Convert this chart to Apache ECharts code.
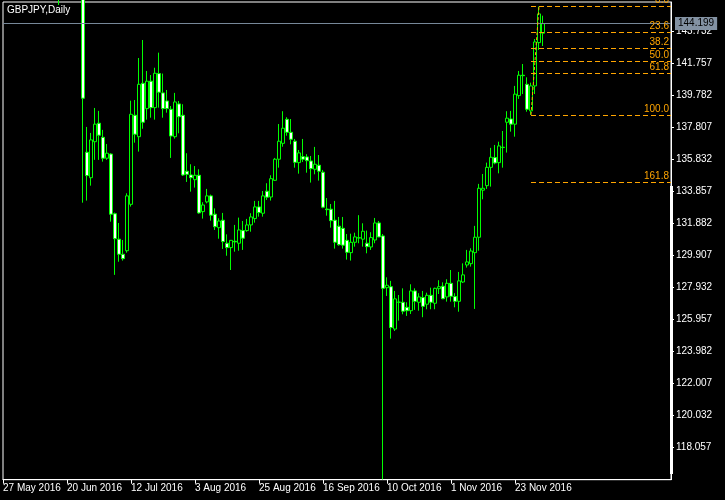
<!DOCTYPE html>
<html><head><meta charset="utf-8">
<script src="https://cdn.jsdelivr.net/npm/echarts@6/dist/echarts.min.js"></script>
<style>html,body{margin:0;padding:0;background:#000}#c{width:725px;height:500px}</style>
</head><body><div id="c"></div>
<script>
const chartTitle = 'GBPJPY,Daily';
const monthNames = ['Jan','Feb','Mar','Apr','May','Jun','Jul','Aug','Sep','Oct','Nov','Dec'];
const firstBarDate = [2016, 4, 27];
const totalSlots = 168;
const lastBarIndex = 135;
const labelEvery = 16;

// Daily bars, 27 May 2016 .. 2 Dec 2016
const opens = [161.0,161.1,161.6,161.0,157.9,157.4,154.6,155.3,156.0,156.3,154.3,152.3,150.6,149.8,150.2,148.6,149.9,153.0,153.2,153.9,
158.6,136.27,134.70,136.92,138.06,137.19,135.90,136.16,132.48,130.91,129.98,130.20,133.06,138.55,137.23,140.52,138.96,140.65,139.02,141.12,
139.93,139.43,138.92,137.23,139.25,138.55,135.10,134.87,134.58,134.85,132.61,133.21,133.58,132.45,131.62,132.08,130.66,130.39,130.78,130.66,
131.44,131.44,131.79,132.18,132.90,132.51,133.87,133.51,134.54,135.84,136.82,138.30,137.50,136.95,135.63,136.00,135.98,135.73,135.22,135.47,
135.04,132.77,132.76,132.08,131.71,131.58,130.84,130.08,130.72,131.00,130.91,130.66,130.43,130.86,131.91,131.11,127.92,127.98,125.37,127.02,
127.02,126.71,126.50,127.72,127.02,127.31,126.90,127.45,126.96,127.86,128.01,127.35,128.19,127.37,127.08,128.27,129.32,129.40,130.08,131.03,
133.93,134.21,135.34,135.94,135.63,136.56,138.12,138.32,138.00,139.76,141.02,140.46,138.82,140.36,143.03,143.61];
const highs = [161.5,162.0,162.3,161.2,158.4,158.3,156.0,156.4,157.0,156.6,154.6,152.6,151.0,150.9,150.7,150.2,153.6,154.0,154.3,160.0,
160.2,137.83,137.46,139.00,138.82,137.65,136.78,136.21,132.55,131.91,130.86,133.74,139.45,139.49,142.08,143.19,141.28,141.03,141.48,142.41,
141.12,140.11,139.12,139.93,139.43,139.23,136.21,135.53,135.42,135.22,133.19,134.01,133.66,132.81,132.20,132.53,131.21,130.86,131.79,132.24,
132.03,132.16,132.51,133.27,133.27,133.88,134.36,134.85,135.92,138.01,138.80,138.43,138.32,137.09,136.41,137.09,136.15,136.04,136.60,136.10,
135.18,133.45,133.08,133.27,132.28,132.28,131.23,131.25,131.31,132.39,131.89,131.44,131.34,132.22,132.03,131.23,128.56,128.34,127.72,127.47,
127.88,127.02,128.13,127.88,127.58,127.72,127.61,127.92,127.92,128.38,128.25,128.44,129.01,127.58,128.89,129.42,130.25,130.35,131.73,134.32,
134.93,135.63,136.54,136.72,136.92,137.58,138.80,138.82,140.36,141.28,141.71,140.89,140.56,143.25,145.25,144.69];
const lows = [160.6,160.9,160.4,157.6,156.7,154.2,154.0,155.0,155.6,153.9,152.0,149.6,148.6,149.2,145.35,148.2,149.8,152.0,152.7,153.3,
133.16,133.29,134.21,135.80,135.80,135.69,135.80,131.99,128.71,129.52,129.59,130.08,132.92,136.86,136.31,137.72,138.28,138.40,138.28,139.02,
138.40,138.71,135.92,137.11,137.44,134.81,134.44,133.84,134.09,132.48,132.18,133.12,132.05,131.48,130.94,130.31,129.89,129.01,130.14,130.20,
130.25,131.37,131.37,131.93,132.30,132.30,133.33,133.29,134.50,135.32,136.61,137.29,136.76,135.32,134.95,135.67,135.01,134.40,134.91,134.52,
132.82,132.36,131.62,130.33,130.51,130.33,129.65,129.59,130.45,130.66,130.45,130.04,130.25,130.66,131.03,116.10,127.41,124.78,125.25,125.89,
126.28,126.18,126.30,126.55,126.50,126.10,126.59,126.59,126.59,127.53,127.21,127.06,127.06,126.71,126.44,128.21,129.16,129.22,126.61,130.20,
133.37,134.01,134.15,135.53,134.97,135.32,136.25,137.54,137.23,139.56,139.86,138.77,138.57,139.86,142.58,142.82];
const closes = [161.1,161.6,161.0,157.9,157.4,154.6,155.3,156.0,156.3,154.3,152.3,150.6,149.8,150.2,148.6,149.9,153.0,153.2,153.9,158.6,
139.60,134.83,137.03,138.00,137.32,135.90,136.21,132.45,130.94,129.98,129.71,133.58,138.61,137.38,140.46,138.12,140.65,139.02,141.14,139.97,
138.96,138.96,137.27,139.37,138.46,134.87,134.91,134.70,134.85,132.53,133.02,133.58,132.39,131.68,132.03,130.76,130.39,130.84,130.74,131.48,
130.97,131.79,132.28,132.90,132.55,133.58,133.50,134.64,135.84,136.95,137.75,137.50,137.07,135.65,136.23,135.84,135.75,135.26,135.53,135.10,
132.88,132.73,132.05,130.72,130.57,130.54,130.10,130.72,131.05,130.98,131.40,130.45,131.01,131.91,131.05,127.88,128.07,125.46,127.23,127.03,
126.47,126.50,127.72,127.08,127.35,126.77,127.45,127.02,127.88,127.98,127.24,128.19,127.39,127.08,128.34,128.71,129.51,130.18,131.03,134.05,
134.05,135.34,135.96,135.61,136.66,136.58,138.37,138.00,139.85,141.02,140.99,138.92,140.36,143.07,144.80,144.199];

const bidPrice = 144.199;
const fibHigh = 145.25;
const fibLow = 138.57;
const fibStartIndex = 132;
const fibEndIndex = 134;
const fibRatios = [0, 0.236, 0.382, 0.5, 0.618, 1, 1.618];

const yTickStart = 116.082;
const yTickStep = 1.975;
const yMax = 145.533;

const categories = [];
(function(){
  const d = new Date(Date.UTC(firstBarDate[0], firstBarDate[1], firstBarDate[2]));
  while (categories.length < totalSlots) {
    const wd = d.getUTCDay();
    if (wd !== 0 && wd !== 6) categories.push(d.getUTCDate() + ' ' + monthNames[d.getUTCMonth()] + ' ' + d.getUTCFullYear());
    d.setUTCDate(d.getUTCDate() + 1);
  }
})();

const candleData = opens.map((o, i) => [o, closes[i], lows[i], highs[i]]);

const FONT = "'Liberation Sans', Arial, sans-serif";
const FS = 10;
const GREEN = '#00ff00';
const ORANGE = '#ffa500';

const fibLines = fibRatios.map(r => {
  const lvl = fibHigh - r * (fibHigh - fibLow);
  return [
    { coord: [fibStartIndex, lvl], label: { formatter: (r * 100).toFixed(1) } },
    { coord: [totalSlots - 1, lvl] }
  ];
});

const chart = echarts.init(document.getElementById('c'), null, { renderer: 'canvas' });
chart.setOption({
  backgroundColor: '#000',
  animation: false,
  title: {
    text: chartTitle, left: 7, top: 5, padding: 0,
    textStyle: { color: '#fff', fontSize: FS, fontWeight: 'normal', fontFamily: FONT }
  },
  grid: {
    left: 2, top: 2, right: 54, bottom: 20.3,
    show: true, borderColor: '#fff', borderWidth: 1, backgroundColor: '#000'
  },
  xAxis: {
    type: 'category',
    data: categories,
    boundaryGap: false,
    axisLine: { lineStyle: { color: '#fff', width: 1 } },
    axisTick: {
      show: true, length: 4, lineStyle: { color: '#fff' },
      interval: (idx) => idx % labelEvery === 0 && idx <= lastBarIndex
    },
    axisLabel: {
      color: '#fff', fontSize: FS, fontFamily: FONT, align: 'left', margin: 4,
      interval: (idx) => idx % labelEvery === 0 && idx <= lastBarIndex
    },
    splitLine: { show: false }
  },
  yAxis: {
    type: 'value',
    position: 'right',
    min: yTickStart,
    max: yMax,
    interval: yTickStep,
    axisLine: { show: true, lineStyle: { color: '#fff', width: 1 } },
    axisTick: { show: true, length: 3, lineStyle: { color: '#fff' } },
    axisLabel: {
      color: '#fff', fontSize: FS, fontFamily: FONT, margin: 5,
      showMinLabel: false, showMaxLabel: false,
      formatter: (v) => {
        const k = (v - yTickStart) / yTickStep;
        return (Math.abs(k - Math.round(k)) < 1e-3 && k > 0.5) ? v.toFixed(3) : '';
      }
    },
    splitLine: { show: false }
  },
  series: [{
    type: 'candlestick',
    data: candleData,
    barWidth: 3,
    itemStyle: {
      color: '#000', color0: '#fff',
      borderColor: GREEN, borderColor0: GREEN, borderColorDoji: GREEN,
      borderWidth: 1
    },
    markLine: {
      silent: true,
      symbol: ['none', 'none'],
      animation: false,
      data: [
        {
          yAxis: bidPrice,
          lineStyle: { color: '#778899', type: 'solid', width: 1, opacity: 1 },
          label: {
            show: true, position: 'end', distance: 4,
            formatter: bidPrice.toFixed(3),
            color: '#000', backgroundColor: '#8392a3',
            padding: [2, 3, 1, 3], fontSize: FS, fontFamily: FONT
          }
        },
        ...fibLines.map(pair => [
          Object.assign({}, pair[0], {
            lineStyle: { color: ORANGE, type: [5, 3], width: 1, opacity: 1 },
            label: Object.assign({
              show: true, position: 'insideEndTop', distance: [2, 1],
              color: ORANGE, fontSize: FS, fontFamily: FONT
            }, pair[0].label)
          }),
          pair[1]
        ]),
        [
          { coord: [fibStartIndex, fibLow], lineStyle: { color: ORANGE, type: [3, 2], width: 1, opacity: 1 }, label: { show: false } },
          { coord: [fibEndIndex, fibHigh] }
        ]
      ]
    }
  }],
  graphic: [{
    type: 'rect', silent: true, z: 100,
    shape: { x: 670, y: 186, width: 3, height: 288 },
    style: { fill: '#fff' }
  }]
});
</script>
</body></html>
